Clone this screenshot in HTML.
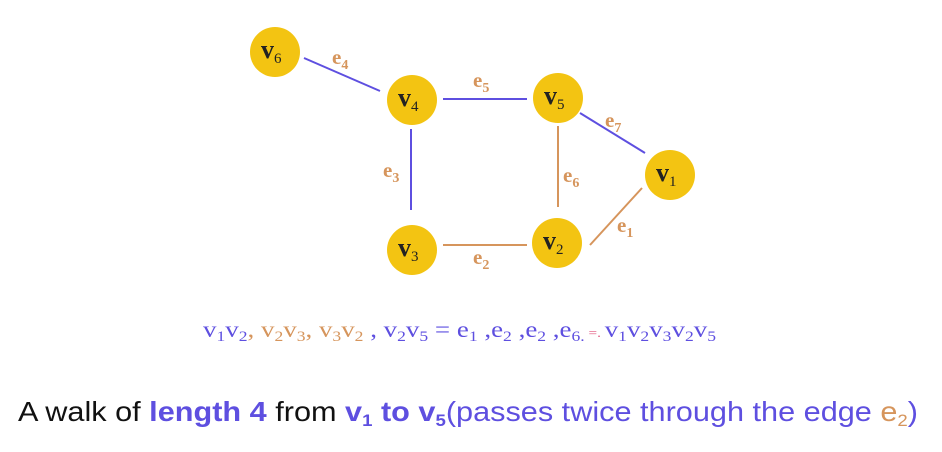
<!DOCTYPE html>
<html><head><meta charset="utf-8"><style>
html,body{margin:0;padding:0;background:#fff;width:942px;height:452px;overflow:hidden}
svg{display:block}
</style></head><body>
<svg width="942" height="452" viewBox="0 0 942 452">
<g stroke-width="2">
<line x1="304" y1="58" x2="380" y2="91" stroke="#5e4fe0"/>
<line x1="443" y1="99" x2="527" y2="99" stroke="#5e4fe0"/>
<line x1="580" y1="113" x2="645" y2="153" stroke="#5e4fe0"/>
<line x1="411" y1="129" x2="411" y2="210" stroke="#5e4fe0"/>
<line x1="558" y1="126" x2="558" y2="207" stroke="#d6955c"/>
<line x1="443" y1="245" x2="527" y2="245" stroke="#d6955c"/>
<line x1="590" y1="245" x2="642" y2="188" stroke="#d6955c"/>
</g>
<g font-family="Liberation Serif, serif" font-weight="bold" font-size="21" fill="#d6955c">
<text x="332" y="64">e<tspan font-size="14" dy="5">4</tspan></text>
<text x="473" y="87">e<tspan font-size="14" dy="5">5</tspan></text>
<text x="605" y="127">e<tspan font-size="14" dy="5">7</tspan></text>
<text x="383" y="177">e<tspan font-size="14" dy="5">3</tspan></text>
<text x="563" y="182">e<tspan font-size="14" dy="5">6</tspan></text>
<text x="617" y="232">e<tspan font-size="14" dy="5">1</tspan></text>
<text x="473" y="264">e<tspan font-size="14" dy="5">2</tspan></text>
</g>
<g font-family="Liberation Serif, serif" font-size="26" font-weight="bold" fill="#222">
<g><circle cx="275" cy="52" r="25" fill="#f3c412"/><text x="261" y="58">v<tspan font-size="15" font-weight="normal" dy="5">6</tspan></text></g>
<g><circle cx="412" cy="100" r="25" fill="#f3c412"/><text x="398" y="106">v<tspan font-size="15" font-weight="normal" dy="5">4</tspan></text></g>
<g><circle cx="558" cy="98" r="25" fill="#f3c412"/><text x="544" y="104">v<tspan font-size="15" font-weight="normal" dy="5">5</tspan></text></g>
<g><circle cx="670" cy="175" r="25" fill="#f3c412"/><text x="656" y="181">v<tspan font-size="15" font-weight="normal" dy="5">1</tspan></text></g>
<g><circle cx="412" cy="250" r="25" fill="#f3c412"/><text x="398" y="256">v<tspan font-size="15" font-weight="normal" dy="5">3</tspan></text></g>
<g><circle cx="557" cy="243" r="25" fill="#f3c412"/><text x="543" y="249">v<tspan font-size="15" font-weight="normal" dy="5">2</tspan></text></g>
</g>
<text x="203" y="337" font-family="Liberation Serif, serif" font-size="23" fill="#5e4fe0" textLength="513" lengthAdjust="spacingAndGlyphs">v<tspan font-size="15" dy="4">1</tspan><tspan dy="-4">v</tspan><tspan font-size="15" dy="4">2</tspan><tspan dy="-4" fill="#d6955c">, v</tspan><tspan font-size="15" dy="4" fill="#d6955c">2</tspan><tspan dy="-4" fill="#d6955c">v</tspan><tspan font-size="15" dy="4" fill="#d6955c">3</tspan><tspan dy="-4" fill="#d6955c">, v</tspan><tspan font-size="15" dy="4" fill="#d6955c">3</tspan><tspan dy="-4" fill="#d6955c">v</tspan><tspan font-size="15" dy="4" fill="#d6955c">2</tspan><tspan dy="-4"> , v</tspan><tspan font-size="15" dy="4">2</tspan><tspan dy="-4">v</tspan><tspan font-size="15" dy="4">5</tspan><tspan dy="-4"> = e</tspan><tspan font-size="15" dy="4">1</tspan><tspan dy="-4"> ,e</tspan><tspan font-size="15" dy="4">2</tspan><tspan dy="-4"> ,e</tspan><tspan font-size="15" dy="4">2</tspan><tspan dy="-4"> ,e</tspan><tspan font-size="15" dy="4">6.</tspan><tspan dy="-4" font-size="13" fill="#e0507a">  =. </tspan><tspan>v</tspan><tspan font-size="15" dy="4">1</tspan><tspan dy="-4">v</tspan><tspan font-size="15" dy="4">2</tspan><tspan dy="-4">v</tspan><tspan font-size="15" dy="4">3</tspan><tspan dy="-4">v</tspan><tspan font-size="15" dy="4">2</tspan><tspan dy="-4">v</tspan><tspan font-size="15" dy="4">5</tspan></text>
<text x="18" y="421" font-family="Liberation Sans, sans-serif" font-size="28" fill="#111" textLength="900" lengthAdjust="spacingAndGlyphs">A walk of <tspan font-weight="bold" fill="#5e4fe0">length 4</tspan> from <tspan font-weight="bold" fill="#5e4fe0">v</tspan><tspan font-weight="bold" fill="#5e4fe0" font-size="17" dy="5">1</tspan><tspan dy="-5" font-weight="bold" fill="#5e4fe0"> to v</tspan><tspan font-weight="bold" fill="#5e4fe0" font-size="17" dy="5">5</tspan><tspan dy="-5" fill="#5e4fe0">(passes twice through the edge </tspan><tspan fill="#d6955c">e</tspan><tspan fill="#d6955c" font-size="17" dy="5">2</tspan><tspan dy="-5" fill="#5e4fe0">)</tspan></text>
</svg>
</body></html>
